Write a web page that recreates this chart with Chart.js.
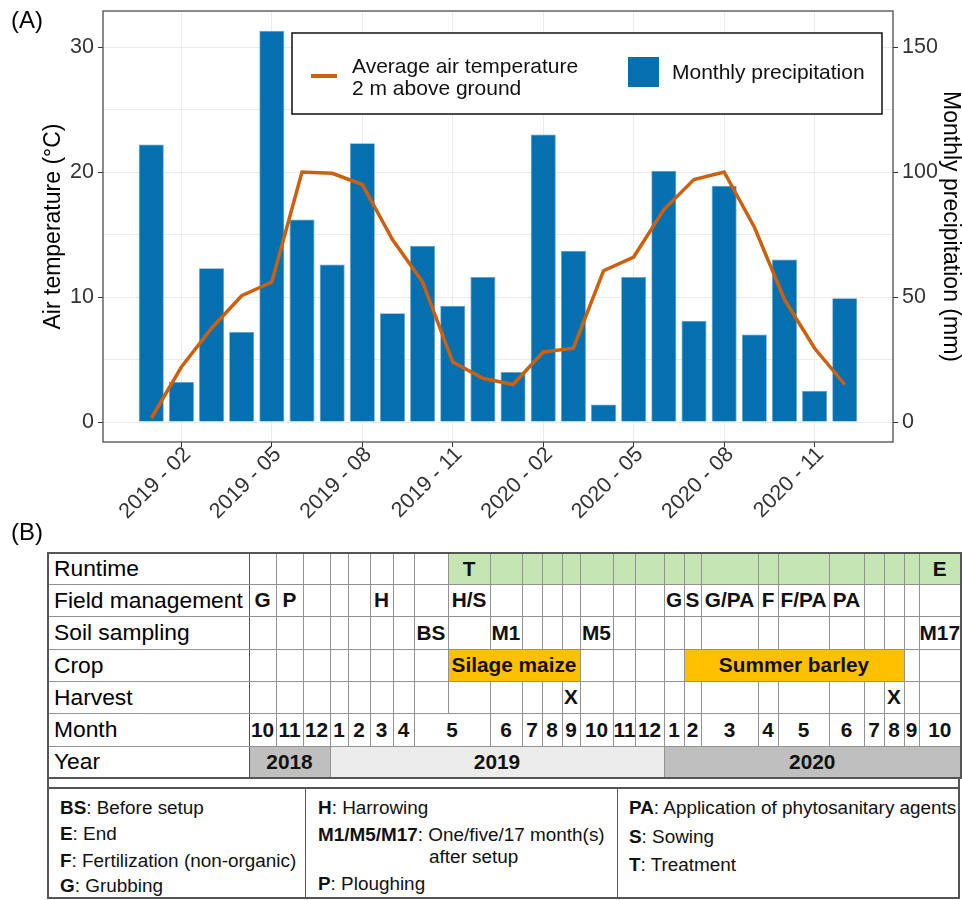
<!DOCTYPE html>
<html>
<head>
<meta charset="utf-8">
<script src="https://cdn.jsdelivr.net/npm/chart.js@4.4.0/dist/chart.umd.min.js"></script>
<style>
  body { margin: 0; background: #fff; font-family: "Liberation Sans", Arial, sans-serif; }
  #wrap { position: relative; width: 962px; height: 900px; overflow: hidden; }
  #climate { position: absolute; left: 0; top: 0; }
  .tag { position: absolute; font-size: 24px; line-height: 1; color: #000; }
  #sched { position: absolute; left: 47px; top: 552px; width: 913px; border-collapse: collapse;
           table-layout: fixed; border: 2px solid #555; }
  #sched td { border: 1px solid #929292; padding: 0; text-align: center; font-weight: bold;
              font-size: 20.8px; color: #111; white-space: nowrap; overflow: visible; }
  #sched tr { border-top: 1px solid #6a6a6a; border-bottom: 1px solid #6a6a6a; }
  #sched td.lab { text-align: left; font-weight: normal; font-size: 22.8px; padding-left: 5px;
                  border-right: 1px solid #555; color: #000; }
  #sched .rt { background: #c6e5b4; }
  #sched .crop { background: #ffc000; }
  #sched .dark { background: #bfbfbf; }
  #sched .light { background: #ececec; }
  #gap { position: absolute; left: 47px; top: 777px; width: 909px; height: 10px;
         border-left: 2px solid #555; border-right: 2px solid #555; }
  #legend { position: absolute; left: 47px; top: 787px; width: 909px; height: 108px;
            border: 2px solid #555; font-size: 18.9px; color: #111; }
  #legend .col { position: absolute; top: 0; bottom: 0; }
  #legend .col + .col { border-left: 1px solid #555; }
  #legend .line { position: absolute; white-space: nowrap; line-height: 22px; }
  #legend b { font-weight: bold; }
</style>
</head>
<body>
<div id="wrap">
  <canvas id="climate" width="962" height="530"></canvas>
  <div class="tag" style="left:11px;top:8px">(A)</div>
  <div class="tag" style="left:11px;top:520px">(B)</div>
  <table id="sched"></table>
  <div id="gap"></div>
  <div id="legend"></div>
</div>
<script>
// ---- part A: monthly weather ----
const months = ["2019 - 01", "2019 - 02", "2019 - 03", "2019 - 04", "2019 - 05", "2019 - 06",
                "2019 - 07", "2019 - 08", "2019 - 09", "2019 - 10", "2019 - 11", "2019 - 12",
                "2020 - 01", "2020 - 02", "2020 - 03", "2020 - 04", "2020 - 05", "2020 - 06",
                "2020 - 07", "2020 - 08", "2020 - 09", "2020 - 10", "2020 - 11", "2020 - 12"];
const precipitation = [111, 16, 61.5, 36, 156.5, 81, 63, 111.5, 43.5, 70.5, 46.5, 58,
                       20, 115, 68.5, 7, 58, 100.5, 40.5, 94.5, 35, 65, 12.5, 49.5];
const temperature = [0.3, 4.4, 7.5, 10.1, 11.2, 20.0, 19.9, 19.0, 14.6, 11.2, 4.8, 3.5,
                     3.0, 5.6, 5.9, 12.1, 13.2, 17.0, 19.4, 20.0, 15.6, 9.8, 5.9, 3.0];
const labelledMonths = [1, 4, 7, 10, 13, 16, 19, 22];
const tempTicks = [0, 5, 10, 15, 20, 25, 30];
const precTicks = [0, 50, 100, 150];

// ---- part B: field schedule ----
const rowLabels = ["Runtime", "Field management", "Soil sampling", "Crop", "Harvest", "Month", "Year"];
const runtimeStart = 8;
const runtimeMarks = [[8, "T"], [25, "E"]];
const fieldMarks = [[0, "G"], [1, "P"], [5, "H"], [8, "H/S"], [16, "G"], [17, "S"],
                    [18, "G/PA"], [19, "F"], [20, "F/PA"], [21, "PA"]];
const soilMarks = [[7, "BS"], [9, "M1"], [13, "M5"], [25, "M17"]];
const crops = [[8, 5, "Silage maize"], [17, 7, "Summer barley"]];
const harvestMarks = [[12, "X"], [23, "X"]];
const monthNumbers = ["10", "11", "12", "1", "2", "3", "4", "5", "6", "7", "8", "9", "10", "11", "12",
                      "1", "2", "3", "4", "5", "6", "7", "8", "9", "10"];
const years = [[0, 3, "2018", "dark"], [3, 13, "2019", "light"], [16, 10, "2020", "dark"]];
const legendColumns = [
  [["BS", "Before setup"], ["E", "End"], ["F", "Fertilization (non-organic)"], ["G", "Grubbing"]],
  [["H", "Harrowing"], ["M1/M5/M17", "One/five/17 month(s)"], ["", "after setup"], ["P", "Ploughing"]],
  [["PA", "Application of phytosanitary agents"], ["S", "Sowing"], ["T", "Treatment"]]
];

// layout only
const colWidths = [201, 27, 27, 27, 18, 22, 23, 21, 34, 42, 32, 20, 20, 18, 33, 22, 29, 20, 17,
                   57, 20, 51, 35, 20, 20, 15, 42];
const rowHeights = [31, 32, 33, 32, 32, 33, 32];
const NCOL = colWidths.length - 1;
const legendCols = [[0, 256, 11], [256, 312, 12], [568, 341, 11]];   // left, width, text indent
const legendLineY = [[19, 45, 72, 97], [19, 46, 68, 95], [19, 48, 76]]; // line centres
const FONT = "'Liberation Sans', Arial, sans-serif";

const BLUE = "#0570b0";
const ORANGE = "#cd600c";

const panelPlugin = {
  id: "panel",
  afterDatasetsDraw(chart) {
    const { ctx, chartArea: a } = chart;
    ctx.save();
    // legend box
    const bx = a.left + 189, by = a.top + 22;
    ctx.fillStyle = "#fff";
    ctx.fillRect(bx, by, 590, 81);
    ctx.strokeStyle = "#111";
    ctx.lineWidth = 1.5;
    ctx.strokeRect(bx, by, 590, 81);
    ctx.strokeStyle = ORANGE;
    ctx.lineWidth = 4;
    ctx.beginPath();
    ctx.moveTo(bx + 19, by + 43);
    ctx.lineTo(bx + 45, by + 43);
    ctx.stroke();
    ctx.fillStyle = BLUE;
    ctx.fillRect(bx + 336, by + 24, 31, 30);
    ctx.fillStyle = "#111";
    ctx.font = "21px " + FONT;
    ctx.textBaseline = "middle";
    ctx.fillText("Average air temperature", bx + 60, by + 34);
    ctx.fillText("2 m above ground", bx + 60, by + 56);
    ctx.fillText("Monthly precipitation", bx + 380, by + 40);
    // panel border
    ctx.strokeStyle = "#4d4d4d";
    ctx.lineWidth = 1.3;
    ctx.strokeRect(a.left, a.top, a.right - a.left, a.bottom - a.top);
    ctx.restore();
  }
};

function noPad(axis) {
  axis.paddingTop = 0;
  axis.paddingBottom = 0;
  axis.paddingLeft = 0;
  axis.paddingRight = 0;
}

new Chart(document.getElementById("climate"), {
  type: "bar",
  data: {
    datasets: [
      {
        type: "line",
        label: "Average air temperature 2 m above ground",
        data: temperature.map((t, i) => ({ x: i, y: t })),
        yAxisID: "y",
        borderColor: ORANGE,
        borderWidth: 3.5,
        pointRadius: 0,
        tension: 0,
        order: 0
      },
      {
        type: "bar",
        label: "Monthly precipitation",
        data: precipitation.map((p, i) => ({ x: i, y: p })),
        yAxisID: "y1",
        backgroundColor: BLUE,
        borderColor: "#5a9fd0",
        borderWidth: 0.8,
        categoryPercentage: 1,
        barPercentage: 0.83,
        order: 1
      }
    ]
  },
  options: {
    responsive: false,
    animation: false,
    layout: { padding: { top: 11, left: 0, right: 0, bottom: 0 } },
    plugins: { legend: { display: false }, tooltip: { enabled: false } },
    scales: {
      x: {
        type: "linear",
        min: -1.6,
        max: 24.6,
        offset: false,
        afterBuildTicks: axis => { axis.ticks = labelledMonths.map(v => ({ value: v })); },
        afterFit: axis => { axis.height = 530 - 442; noPad(axis); },
        ticks: {
          autoSkip: false, minRotation: 45, maxRotation: 45, padding: -5, labelOffset: 6,
          callback: v => months[v],
          font: { size: 21.5, family: FONT }, color: "#333"
        },
        grid: { offset: false, color: "#ebebeb", tickColor: "#333", tickLength: 5 },
        border: { display: false }
      },
      y: {
        position: "left",
        min: -1.6,
        max: 32.88,
        afterBuildTicks: axis => { axis.ticks = tempTicks.map(v => ({ value: v })); },
        afterFit: axis => { axis.width = 103; noPad(axis); },
        ticks: {
          padding: 4,
          callback: v => (v % 10 === 0 ? v : ""),
          font: { size: 21.5, family: FONT }, color: "#333"
        },
        grid: {
          color: "#ebebeb", tickLength: 5,
          tickColor: c => (c.tick && c.tick.value % 10 === 0 ? "#333" : "rgba(0,0,0,0)")
        },
        border: { display: false },
        title: {
          display: true, text: "Air temperature (°C)", color: "#000",
          font: { size: 23, family: FONT },
          padding: { top: 40, bottom: 0 }
        }
      },
      y1: {
        position: "right",
        min: -8,
        max: 164.4,
        afterBuildTicks: axis => { axis.ticks = precTicks.map(v => ({ value: v })); },
        afterFit: axis => { axis.width = 69; noPad(axis); },
        ticks: {
          padding: 4,
          font: { size: 21.5, family: FONT }, color: "#333"
        },
        grid: { drawOnChartArea: false, tickColor: "#333", tickLength: 5 },
        border: { display: false },
        title: {
          display: true, text: "Monthly precipitation (mm)", color: "#000",
          font: { size: 23, family: FONT, lineHeight: 1.05 },
          padding: { top: 0, bottom: 0 }
        }
      }
    }
  },
  plugins: [panelPlugin]
});

// ---- build schedule table ----
function buildRow(cells, fillClass) {
  // cells: [col, span, text, cls]
  const out = [];
  let c = 0;
  const sorted = cells.slice().sort((a, b) => a[0] - b[0]);
  sorted.forEach(cell => {
    while (c < cell[0]) {
      out.push({ span: 1, text: "", cls: fillClass ? fillClass(c) : "" });
      c++;
    }
    out.push({ span: cell[1], text: cell[2], cls: cell[3] || (fillClass ? fillClass(c) : "") });
    c += cell[1];
  });
  while (c < NCOL) {
    out.push({ span: 1, text: "", cls: fillClass ? fillClass(c) : "" });
    c++;
  }
  return out;
}

const runtimeFill = c => (c >= runtimeStart ? "rt" : "");
const monthCells = [];
let mc = 0;
monthNumbers.forEach((m, i) => {
  const span = i === 7 ? 2 : 1; // May 2019 covers the setup split
  monthCells.push([mc, span, m]);
  mc += span;
});

const rows = [
  buildRow(runtimeMarks.map(m => [m[0], 1, m[1]]), runtimeFill),
  buildRow(fieldMarks.map(m => [m[0], 1, m[1]])),
  buildRow(soilMarks.map(m => [m[0], 1, m[1]])),
  buildRow(crops.map(m => [m[0], m[1], m[2], "crop"])),
  buildRow(harvestMarks.map(m => [m[0], 1, m[1]])),
  buildRow(monthCells),
  buildRow(years.map(y => [y[0], y[1], y[2], y[3]]))
];

const table = document.getElementById("sched");
const colgroup = document.createElement("colgroup");
colWidths.forEach(w => {
  const col = document.createElement("col");
  col.style.width = w + "px";
  colgroup.appendChild(col);
});
table.appendChild(colgroup);

rows.forEach((cells, r) => {
  const tr = document.createElement("tr");
  tr.style.height = rowHeights[r] + "px";
  const lab = document.createElement("td");
  lab.className = "lab";
  lab.textContent = rowLabels[r];
  tr.appendChild(lab);
  cells.forEach(cell => {
    const td = document.createElement("td");
    if (cell.span > 1) td.colSpan = cell.span;
    if (cell.cls) td.className = cell.cls;
    td.textContent = cell.text;
    tr.appendChild(td);
  });
  table.appendChild(tr);
});

// ---- legend of abbreviations ----
const legend = document.getElementById("legend");
legendColumns.forEach((items, i) => {
  const col = document.createElement("div");
  col.className = "col";
  col.style.left = legendCols[i][0] + "px";
  col.style.width = legendCols[i][1] + "px";
  items.forEach((it, k) => {
    const line = document.createElement("div");
    line.className = "line";
    line.style.top = (legendLineY[i][k] - 11) + "px";
    if (it[0]) {
      line.style.left = legendCols[i][2] + "px";
      line.innerHTML = "<b>" + it[0] + "</b>: " + it[1];
    } else {
      line.style.left = (legendCols[i][2] + 111) + "px";
      line.textContent = it[1];
    }
    col.appendChild(line);
  });
  legend.appendChild(col);
});
</script>
</body>
</html>
